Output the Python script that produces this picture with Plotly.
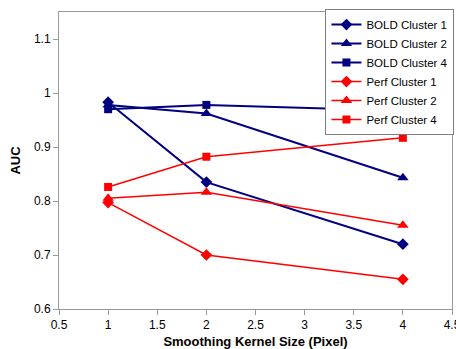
import plotly.graph_objects as go

kernel_sizes = [1, 2, 4]
bold_c1 = [0.983, 0.835, 0.720]
bold_c2 = [0.978, 0.962, 0.843]
bold_c4 = [0.970, 0.978, 0.967]
perf_c1 = [0.797, 0.700, 0.655]
perf_c2 = [0.805, 0.816, 0.755]
perf_c4 = [0.826, 0.882, 0.917]

series = [
    ("BOLD Cluster 1", bold_c1, "#000080", "diamond", 9),
    ("BOLD Cluster 2", bold_c2, "#000080", "triangle-up", 10),
    ("BOLD Cluster 4", bold_c4, "#000080", "square", 8),
    ("Perf Cluster 1", perf_c1, "#FF0000", "diamond", 9),
    ("Perf Cluster 2", perf_c2, "#FF0000", "triangle-up", 10),
    ("Perf Cluster 4", perf_c4, "#FF0000", "square", 8),
]

fig = go.Figure()
for name, vals, color, sym, size in series:
    fig.add_trace(go.Scatter(
        x=kernel_sizes, y=vals, name=name, mode="lines+markers",
        line=dict(color=color, width=2 if color == "#000080" else 1.5),
        marker=dict(symbol=sym, size=size, color=color),
    ))

fig.update_layout(
    width=456, height=349,
    margin=dict(l=59, r=4, t=12, b=40, autoexpand=False),
    paper_bgcolor="white", plot_bgcolor="white",
    font=dict(family="Liberation Sans, Arial, sans-serif", size=12, color="black"),
    showlegend=True,
    legend=dict(x=0.678, y=1.01, xanchor="left", yanchor="top",
                bordercolor="#808080", borderwidth=1, bgcolor="white",
                font=dict(size=11.5), tracegroupgap=0, itemwidth=30),
    xaxis=dict(range=[0.5, 4.5], dtick=0.5, tick0=0.5, showgrid=False,
               showline=True, linecolor="#999999", linewidth=1, mirror=True,
               ticks="outside", tickcolor="#999999", ticklen=5, zeroline=False,
               ticklabeloverflow="allow",
               title=dict(text="<b>Smoothing Kernel Size (Pixel)</b>", standoff=6,
                          font=dict(size=13))),
    yaxis=dict(range=[0.6, 1.15], tickvals=[0.6, 0.7, 0.8, 0.9, 1.0, 1.1],
               ticktext=["0.6", "0.7", "0.8", "0.9", "1", "1.1"], showgrid=False,
               showline=True, linecolor="#999999", linewidth=1, mirror=True,
               ticks="outside", tickcolor="#999999", ticklen=5, zeroline=False,
               title=dict(text="<b>AUC</b>", standoff=10, font=dict(size=13))),
)

fig.write_html("out.html", config={"displayModeBar": False},
               post_script="document.body.style.margin='0';document.body.style.overflow='hidden';")
